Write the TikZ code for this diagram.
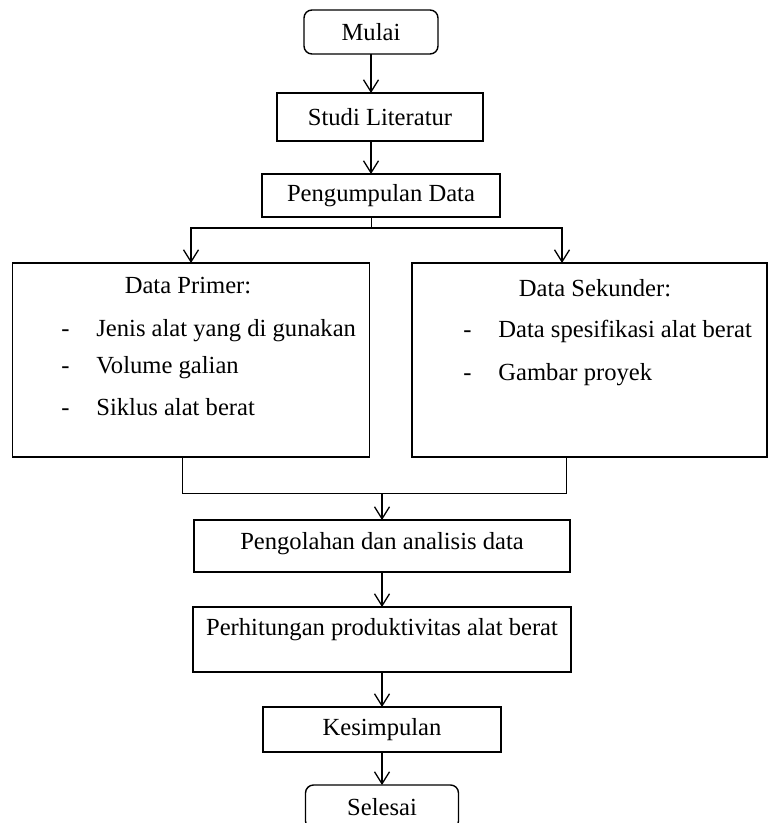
\documentclass[tikz,border=0pt]{standalone}
\usepackage{fontspec}
\setmainfont{Liberation Serif}
\usetikzlibrary{arrows.meta,positioning}

\begin{document}
\begin{tikzpicture}[
font=\fontsize{12.3pt}{15pt}\selectfont,
box/.style={draw,line width=0.7pt,inner sep=0pt,outer sep=0pt,align=center},
roundbox/.style={box,rounded corners=4pt},
bigbox/.style={box,minimum height=97pt},
head/.style={inner sep=0pt,anchor=base},
item/.style={inner sep=0pt,anchor=base west},
arr/.style={-{Straight Barb[length=6pt,width=7.5pt]},line width=0.65pt}
]
\useasboundingbox (0,0) rectangle (384.5pt,-411.5pt);

\node[roundbox,minimum width=67pt,minimum height=22pt] (mulai) at (185.5pt,-16pt) {Mulai};
\node[box,minimum width=103pt,minimum height=24pt,below=19.5pt of mulai,xshift=4.5pt] (studi) {Studi Literatur};
\node[box,minimum width=119pt,minimum height=21.5pt,below=16.5pt of studi,xshift=0.5pt] (kumpul) {Pengumpulan Data};
\coordinate[below=5.5pt of kumpul,xshift=-5pt] (split);

% data primer dan sekunder
\node[bigbox,minimum width=178.5pt,below=23pt of kumpul,xshift=-95pt] (primer) {};
\node[bigbox,minimum width=177.5pt,right=21.25pt of primer] (sekunder) {};
\node[head] (primerjudul) at ([xshift=87.75pt,yshift=-15pt]primer.north west) {Data Primer:};
\node[item] (primer1) at ([xshift=24.25pt,yshift=-36.5pt]primer.north west) {\makebox[17.5pt][l]{-}Jenis alat yang di gunakan};
\node[item] (primer2) at ([xshift=24.25pt,yshift=-55pt]primer.north west) {\makebox[17.5pt][l]{-}Volume galian};
\node[item] (primer3) at ([xshift=24.25pt,yshift=-76pt]primer.north west) {\makebox[17.5pt][l]{-}Siklus alat berat};
\node[head] (sekunderjudul) at ([xshift=91.5pt,yshift=-17pt]sekunder.north west) {Data Sekunder:};
\node[item] (sekunder1) at ([xshift=25.5pt,yshift=-37pt]sekunder.north west) {\makebox[17.5pt][l]{-}Data spesifikasi alat berat};
\node[item] (sekunder2) at ([xshift=25.5pt,yshift=-58.5pt]sekunder.north west) {\makebox[17.5pt][l]{-}Gambar proyek};
\coordinate[below=18pt of primer,xshift=-4.5pt] (gabung);

\node[box,minimum width=188pt,text height=14.5pt,text depth=11.5pt,below=13.5pt of gabung,xshift=100pt] (olah) {Pengolahan dan analisis data};
\node[box,minimum width=189pt,text height=14pt,text depth=18.5pt,below=17.5pt of olah] (hitung) {Perhitungan produktivitas alat berat};
\node[box,minimum width=119pt,minimum height=22.5pt,below=17.5pt of hitung] (simpul) {Kesimpulan};
\node[roundbox,minimum width=76.5pt,minimum height=22pt,below=16.5pt of simpul] (selesai) {Selesai};

\draw[arr] (mulai) -- (mulai.south |- studi.north);
\draw[arr] ([xshift=-4.5pt]studi.south) -- ([xshift=-5pt]kumpul.north);
\draw ([xshift=-5pt]kumpul.south) -- (split);
\draw[arr] (split) -| (primer.north);
\draw[arr] (split) -| ([xshift=-13.75pt]sekunder.north);
\draw ([xshift=-4.5pt]primer.south) -- (gabung) -| ([xshift=-11.75pt]sekunder.south);
\draw[arr] (gabung -| olah.north) -- (olah.north);
\draw[arr] (olah) -- (hitung);
\draw[arr] (hitung) -- (simpul);
\draw[arr] (simpul) -- (selesai);
\end{tikzpicture}
\end{document}
